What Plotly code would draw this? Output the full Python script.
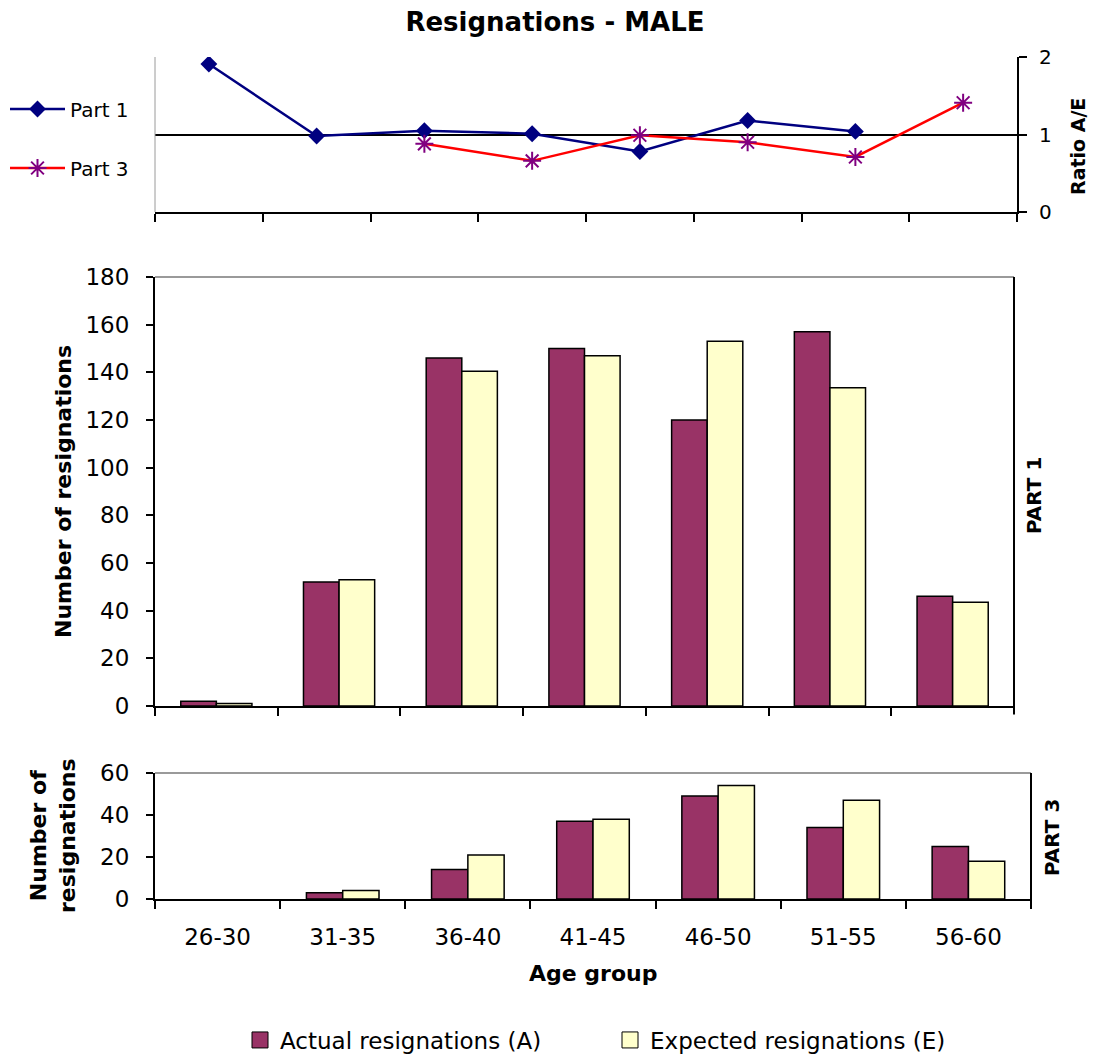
import plotly.graph_objects as go

# ---------------- data ----------------
age_groups = ["26-30", "31-35", "36-40", "41-45", "46-50", "51-55", "56-60"]

# Part 1 (main panel)
part1_actual = [2, 52, 146, 150, 120, 157, 46]
part1_expected = [1, 53, 140.5, 147, 153, 133.5, 43.5]

# Part 3 (bottom panel) - no data for 26-30
part3_actual = [None, 3, 14, 37, 49, 34, 25]
part3_expected = [None, 4, 21, 38, 54, 47, 18]

# Ratio A/E panel (8 slots on its own axis)
ratio_slots = [1, 2, 3, 4, 5, 6, 7, 8]
part1_ratio_slot = [1, 2, 3, 4, 5, 6, 7]
part1_ratio = [1.91, 0.98, 1.05, 1.01, 0.78, 1.18, 1.04]
part3_ratio_slot = [3, 4, 5, 6, 7, 8]
part3_ratio = [0.88, 0.66, 0.99, 0.90, 0.71, 1.41]

# ---------------- style ----------------
W, H = 1096, 1059
FONT = "DejaVu Sans"
COL_A = "#993366"
COL_E = "#FFFFCC"


def fx(px):
    return px / W


def fy(py):
    return 1 - py / H


fig = go.Figure()

# Ratio lines
fig.add_trace(go.Scatter(
    x=part1_ratio_slot, y=part1_ratio, name="Part 1", mode="lines+markers",
    line=dict(color="#000080", width=2.5),
    marker=dict(symbol="diamond", size=13, color="#000080"),
    xaxis="x", yaxis="y", legend="legend2"))
fig.add_trace(go.Scatter(
    x=part3_ratio_slot, y=part3_ratio, name="Part 3", mode="lines+markers",
    line=dict(color="#FF0000", width=2.5),
    marker=dict(symbol="asterisk-open", size=15, color="#800080",
                line=dict(color="#800080", width=2)),
    xaxis="x", yaxis="y", legend="legend3"))

# Bars Part 1
bar_line = dict(color="black", width=1.5)
fig.add_trace(go.Bar(x=age_groups, y=part1_actual, name="Actual resignations (A)",
                     marker=dict(color=COL_A, line=bar_line), xaxis="x2", yaxis="y2",
                     showlegend=False))
fig.add_trace(go.Bar(x=age_groups, y=part1_expected, name="Expected resignations (E)",
                     marker=dict(color=COL_E, line=bar_line), xaxis="x2", yaxis="y2",
                     showlegend=False))
# Bars Part 3
fig.add_trace(go.Bar(x=age_groups, y=part3_actual, name="Actual resignations (A)",
                     marker=dict(color=COL_A, line=bar_line), xaxis="x3", yaxis="y3",
                     showlegend=False))
fig.add_trace(go.Bar(x=age_groups, y=part3_expected, name="Expected resignations (E)",
                     marker=dict(color=COL_E, line=bar_line), xaxis="x3", yaxis="y3",
                     showlegend=False))

# Legend entries for the bars (square swatches)
for nm, col in [("Actual resignations (A)", COL_A), ("Expected resignations (E)", COL_E)]:
    fig.add_trace(go.Scatter(x=[None], y=[None], mode="markers", name=nm,
                             marker=dict(symbol="square", size=16, color=col,
                                         line=dict(color="black", width=1)),
                             xaxis="x3", yaxis="y3", legend="legend", hoverinfo="skip"))

axis_common = dict(showline=True, linecolor="black", linewidth=2, ticks="outside",
                   tickcolor="black", tickwidth=2, zeroline=False, showgrid=False)

fig.update_layout(
    width=W, height=H, autosize=False,
    margin=dict(l=0, r=0, t=0, b=0, autoexpand=False),
    paper_bgcolor="white", plot_bgcolor="white",
    font=dict(family=FONT, color="black", size=23),
    title=dict(text="<b>Resignations - MALE</b>", x=fx(555), xanchor="center",
               y=fy(22), yanchor="middle", font=dict(size=26, family=FONT)),
    barmode="group", bargap=0.42, bargroupgap=0,
    showlegend=True,
    # --- ratio panel ---
    xaxis=dict(domain=[fx(155), fx(1017)], range=[0.5, 8.5],
               tickvals=[v - 0.5 for v in ratio_slots] + [ratio_slots[-1] + 0.5],
               showticklabels=False, ticklen=8, anchor="y", **axis_common),
    yaxis=dict(domain=[fy(212), fy(57)], range=[0, 2], tickvals=[0, 1, 2], side="right",
               anchor="x", ticklen=8, tickfont=dict(size=20), ticklabelstandoff=8,
               **{**axis_common, "showgrid": True}, gridcolor="black", gridwidth=2),
    # --- Part 1 panel ---
    xaxis2=dict(domain=[fx(155), fx(1014)], type="category", tickson="boundaries",
                showticklabels=False, ticklen=8, anchor="y2", **axis_common),
    yaxis2=dict(domain=[fy(706), fy(277)], range=[0, 180], dtick=20, ticklen=7,
                anchor="x2", ticklabelstandoff=12, **axis_common),
    # --- Part 3 panel ---
    xaxis3=dict(domain=[fx(155), fx(1031)], type="category", tickson="boundaries",
                ticklen=8, anchor="y3", ticklabelstandoff=16, **axis_common),
    yaxis3=dict(domain=[fy(899), fy(773)], range=[0, 60], dtick=20, ticklen=7,
                anchor="x3", ticklabelstandoff=12, **axis_common),
    legend=dict(orientation="h", x=fx(240), xanchor="left", y=fy(1040), yanchor="middle",
                entrywidth=325, font=dict(size=23), bgcolor="rgba(0,0,0,0)",
                itemclick=False, itemdoubleclick=False),
    legend2=dict(x=fx(5), xanchor="left", y=fy(109), yanchor="middle", itemwidth=55,
                 font=dict(size=20), bgcolor="rgba(0,0,0,0)"),
    legend3=dict(x=fx(5), xanchor="left", y=fy(168), yanchor="middle", itemwidth=55,
                 font=dict(size=20), bgcolor="rgba(0,0,0,0)"),
)

# Panel borders
shapes = [
    dict(type="line", xref="x domain", yref="y domain", x0=0, x1=0, y0=0, y1=1,
         line=dict(color="#9a9a9a", width=1)),
    dict(type="line", xref="x2 domain", yref="y2 domain", x0=0, x1=1, y0=1, y1=1,
         line=dict(color="#9a9a9a", width=2)),
    dict(type="line", xref="x2 domain", yref="y2 domain", x0=1, x1=1, y0=-0.02, y1=1,
         line=dict(color="black", width=2)),
    dict(type="line", xref="x3 domain", yref="y3 domain", x0=0, x1=1, y0=1, y1=1,
         line=dict(color="#9a9a9a", width=2)),
    dict(type="line", xref="x3 domain", yref="y3 domain", x0=1, x1=1, y0=-0.06, y1=1,
         line=dict(color="black", width=2)),
]
fig.update_layout(shapes=shapes)

ann = [
    dict(text="<b>Ratio A/E</b>", x=fx(1078), y=fy(147), textangle=-90, font=dict(size=19)),
    dict(text="<b>Number of resignations</b>", x=fx(63), y=fy(492), textangle=-90,
         font=dict(size=22)),
    dict(text="<b>PART 1</b>", x=fx(1034), y=fy(496), textangle=-90, font=dict(size=20)),
    dict(text="<b>Number of<br>resignations</b>", x=fx(53), y=fy(836), textangle=-90,
         font=dict(size=22)),
    dict(text="<b>PART 3</b>", x=fx(1052), y=fy(838), textangle=-90, font=dict(size=20)),
    dict(text="<b>Age group</b>", x=fx(593), y=fy(973), font=dict(size=22)),
]
for a in ann:
    a.update(xref="paper", yref="paper", showarrow=False, xanchor="center", yanchor="middle")
fig.update_layout(annotations=ann)

fig.write_html("out.html", config={"displayModeBar": False},
               post_script="document.body.style.margin='0px';"
                           "document.body.style.overflow='hidden';")
